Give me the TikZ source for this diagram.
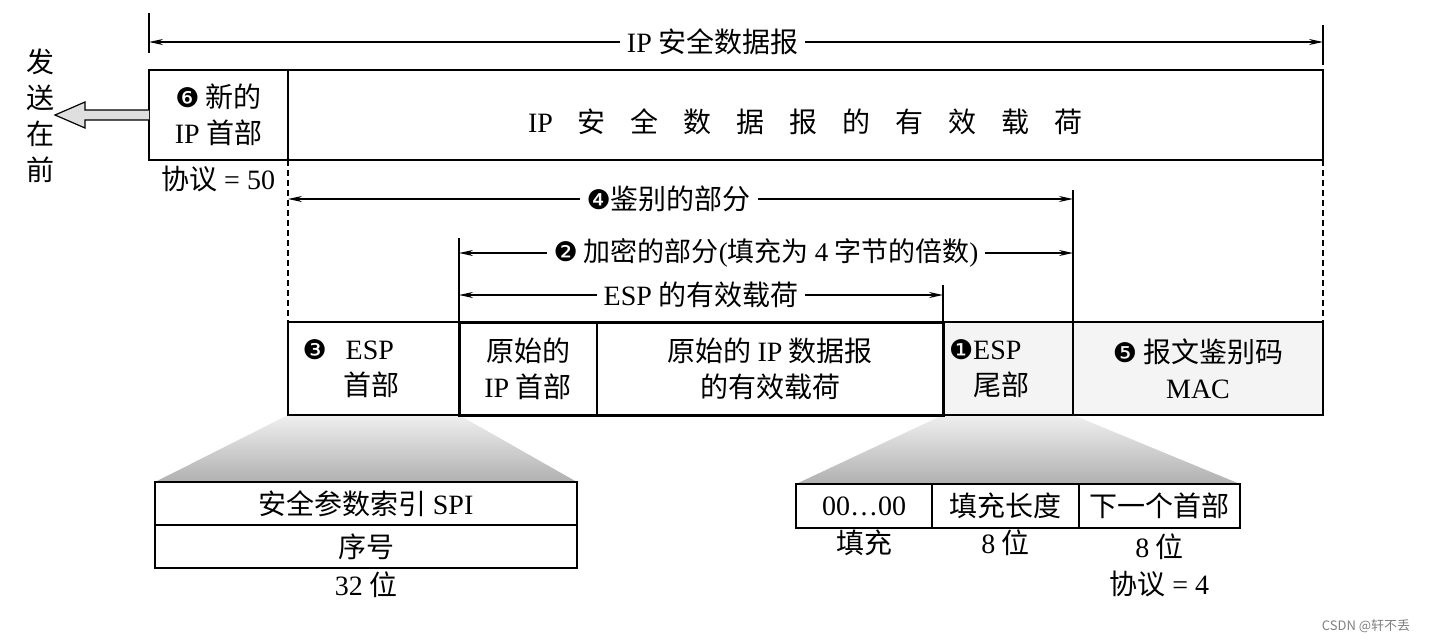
\documentclass[tikz,border=0pt]{standalone}
\usepackage{fontspec}
\setmainfont{Liberation Serif}
\newfontfamily\cjk{Noto Sans CJK SC}
\newfontfamily\lat{Liberation Serif}
\newfontfamily\dingfont{DejaVu Sans}
\usetikzlibrary{positioning,arrows.meta,backgrounds}

\newcommand{\cnum}[1]{{\dingfont\fontsize{27}{27}\selectfont #1}}
\newcommand{\wgap}{\hspace{25pt}}

\tikzset{
  field/.style={draw, line width=1.5pt, inner sep=0pt, outer sep=0pt, anchor=north west, align=center},
  tinted/.style={field, fill=gray!9},
  dimarrow/.style={{Stealth[length=14pt,width=6pt]}-{Stealth[length=14pt,width=6pt]}, line width=1.5pt},
  tick/.style={line width=1.5pt},
  guide/.style={line width=1.2pt, dash pattern=on 6pt off 4pt},
  dimlabel/.style={fill=white, inner xsep=7pt, inner ysep=1pt},
  note/.style={inner sep=2pt, align=center},
  fan/.style={top color=gray!12, bottom color=gray!62}
}

\begin{document}
\begin{tikzpicture}[x=1pt, y=-1pt, font=\cjk\fontsize{28}{36}\selectfont]
  \useasboundingbox (0,0) rectangle (1431,643);

  % IP security datagram
  \node[field, minimum width=139pt, minimum height=90pt] (newhdr) at (149,70)
    {\cnum{❻} 新的\\{\lat IP} 首部};
  \node[field, minimum width=1035pt, minimum height=90pt] (payload) at (newhdr.north east) {};
  \node[yshift=-7pt] (payloadtext) at (payload.center)
    {{\lat IP}\wgap 安\wgap 全\wgap 数\wgap 据\wgap 报\wgap 的\wgap 有\wgap 效\wgap 载\wgap 荷};

  % send-first arrow
  \filldraw[fill=gray!25, line width=1.2pt] (newhdr.west) ++(0,-5) -- ++(-64,0) -- ++(0,-8)
    -- ++(-30,13) -- ++(30,13) -- ++(0,-8) -- ++(64,0);
  \node[align=center] (sendfirst) at (40,116) {发\\送\\在\\前};
  \node[note, below=4pt of newhdr] (protoesp) {协议 {\lat = 50}};

  % ESP packet
  \node[field, minimum width=171pt, minimum height=93pt, text width=142pt, align=left] (esphdr) at (288,322)
    {\cnum{❸}\hspace{19pt}{\lat ESP}\\\phantom{\cnum{❸}}\hspace{17pt}首部};
  \node[field, minimum width=138pt, minimum height=93pt] (origip) at (esphdr.north east)
    {原始的\\{\lat IP} 首部};
  \node[field, minimum width=346pt, minimum height=93pt] (origdata) at (origip.north east)
    {原始的 {\lat IP} 数据报\\的有效载荷};
  \node[tinted, minimum width=130pt, minimum height=93pt, text width=118pt, align=left] (trailer) at (origdata.north east)
    {\cnum{❶}{\lat ESP}\\\phantom{\cnum{❶}}尾部};
  \node[tinted, minimum width=250pt, minimum height=93pt] (mac) at (trailer.north east)
    {\cnum{❺} 报文鉴别码\\{\lat MAC}};
  \draw[line width=3pt] (origip.north west) rectangle (origdata.south east);

  % ESP header fields
  \node[field, minimum width=422pt, minimum height=43pt] (spi) at (155,482) {安全参数索引 {\lat SPI}};
  \node[field, minimum width=422pt, minimum height=43pt] (seqno) at (spi.south west) {序号};
  \node[note, below=2pt of seqno] (widthnote) {{\lat 32} 位};

  % ESP trailer fields
  \node[field, minimum width=136pt, minimum height=44pt] (padding) at (796,484) {{\lat 00…00}};
  \node[field, minimum width=147pt, minimum height=44pt] (padlen) at (padding.north east) {填充长度};
  \node[field, minimum width=161pt, minimum height=44pt] (nexthdr) at (padlen.north east) {下一个首部};
  \node[note, below=0pt of padding] (padnote) {填充};
  \node[note, below=0pt of padlen] (lennote) {{\lat 8} 位};
  \node[note, below=4pt of nexthdr] (nextnote) {{\lat 8} 位};
  \node[note, below=6pt of nextnote] (protonote) {协议 {\lat = 4}};

  % expansion fans
  \begin{pgfonlayer}{background}
    \shade[fan] (esphdr.south west) -- (esphdr.south east) -- (spi.north east) -- (spi.north west) -- cycle;
    \shade[fan] (trailer.south west) -- (trailer.south east) -- (nexthdr.north east) -- (padding.north west) -- cycle;
  \end{pgfonlayer}

  % dimension lines
  \coordinate (dgL) at (newhdr.north west |- 0,42);
  \coordinate (dgR) at (payload.north east |- 0,42);
  \draw[tick] (newhdr.north west |- 0,13) -- (newhdr.north west |- 0,53);
  \draw[tick] (payload.north east |- 0,25) -- (payload.north east |- 0,65);
  \draw[dimarrow] (dgL) -- (dgR) node[dimlabel, pos=0.48] (dglabel) {{\lat IP} 安全数据报};

  \draw[guide] (payload.south west) -- (esphdr.north west);
  \draw[guide] (payload.south east) -- (mac.north east);

  \coordinate (authL) at (esphdr.north west |- 0,199);
  \coordinate (authR) at (mac.north west |- 0,199);
  \draw[tick] (mac.north west) -- (mac.north west |- 0,190);
  \draw[dimarrow] (authL) -- (authR) node[dimlabel, pos=0.485] (authlabel) {\cnum{❹}鉴别的部分};

  \coordinate (encL) at (origip.north west |- 0,253);
  \coordinate (encR) at (mac.north west |- 0,253);
  \draw[tick] (origip.north west) -- (origip.north west |- 0,238);
  \draw[dimarrow] (encL) -- (encR) node[dimlabel, pos=0.5, font=\cjk\fontsize{27}{30}\selectfont] (enclabel)
    {\cnum{❷} 加密的部分{\lat (}填充为 {\lat 4} 字节的倍数{\lat )}};

  \coordinate (espL) at (origip.north west |- 0,295);
  \coordinate (espR) at (trailer.north west |- 0,295);
  \draw[tick] (trailer.north west) -- (trailer.north west |- 0,285);
  \draw[dimarrow] (espL) -- (espR) node[dimlabel, pos=0.5] (esplabel) {{\lat ESP} 的有效载荷};

  \node[text=gray, font=\cjk\fontsize{13}{13}\selectfont] (mark) at (1366,626) {CSDN @轩不丢};
\end{tikzpicture}
\end{document}
